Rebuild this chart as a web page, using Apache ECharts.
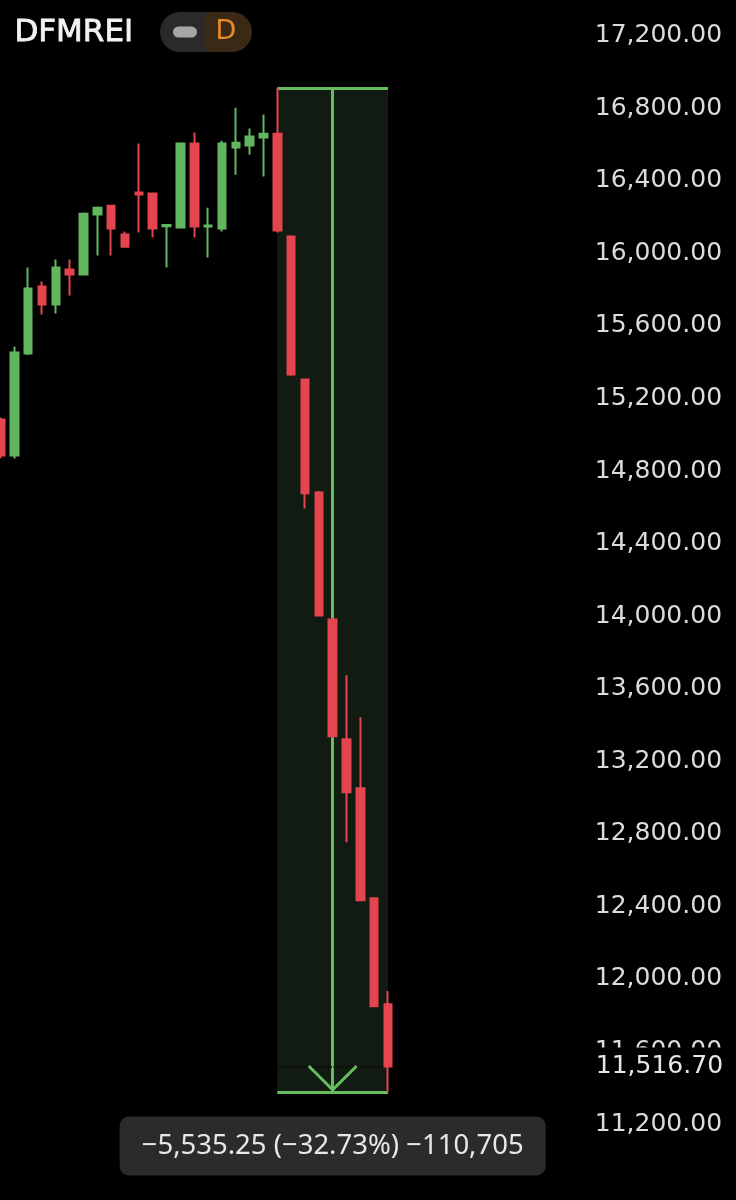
<!DOCTYPE html>
<html>
<head>
<meta charset="utf-8">
<script src="https://cdn.jsdelivr.net/npm/echarts@6/dist/echarts.min.js"></script>
<style>
html,body{margin:0;padding:0;background:#000;}
#chart{width:736px;height:1200px;}
</style>
</head>
<body>
<div id="chart"></div>
<script>
// ---- data ----
const symbolName = 'DFMREI';
const intervalLabel = 'D';
const categories = ['1','2','3','4','5','6','7','8','9','10','11','12','13','14','15','16','17','18','19','20','21','22','23','24','25','26','27','28','29'];
const opens  = [15084,14886,15448,15817,15718,15911,15883,16214,16263,16104,16335,16330,16150,16142,16605,16148,16137,16583,16594,16638,16660,16093,15305,14682,13982,13321,13051,12445,11861];
const closes = [14886,15453,15806,15718,15922,15883,16219,16252,16137,16037,16324,16137,16156,16605,16148,16153,16605,16610,16644,16660,16126,15332,14677,14004,13338,13029,12434,11850,11516.70];
const lows   = [14870,14869,15440,15663,15668,15768,15880,15988,15988,16032,16115,16087,15922,16137,16087,15977,16120,16434,16544,16423,16115,15325,14594,14000,13330,12754,12430,11845,11376.70];
const highs  = [15095,15487,15922,15845,15966,15966,16225,16258,16268,16120,16605,16335,16159,16610,16666,16252,16621,16803,16688,16765,16911.95,16100,15310,14690,13990,13674,13442,12450,11933];
const measureStart = 20;   // index of first candle of the measured move
const measureEnd = 28;     // index of last candle
const tickSize = 0.05;

// ---- derived ----
const padCount = 14;
const xCats = categories.concat(Array.from({length: padCount}, (_, i) => ' ' + i));
const ohlc = opens.map((o, i) => [o, closes[i], lows[i], highs[i]]);
const mHigh = highs[measureStart];
const mLow = lows[measureEnd];
const mMid = (measureStart + measureEnd) / 2;
const lastClose = closes[closes.length - 1];
const fmt2 = v => v.toLocaleString('en-US', {minimumFractionDigits: 2, maximumFractionDigits: 2});
const minus = '\u2212';
const diff = mLow - mHigh;
const pct = diff / mHigh * 100;
const ticks = Math.round(diff / tickSize);
const sgn = v => (v < 0 ? minus : '');
const measureText = sgn(diff) + fmt2(Math.abs(diff)) + ' (' + sgn(pct) + Math.abs(pct).toFixed(2) + '%) ' + sgn(ticks) + Math.abs(ticks).toLocaleString('en-US');

const UP = '#63b660', DOWN = '#e4454e', MEAS = '#66bd5e';

const chart = echarts.init(document.getElementById('chart'), null, {renderer: 'canvas'});
chart.setOption({
  backgroundColor: '#000',
  animation: false,
  grid: {left: 0.5, top: -0.6, width: 581.3, height: 1197.2, containLabel: false, outerBoundsMode: 'none'},
  xAxis: {
    type: 'category', data: xCats, boundaryGap: false, show: false
  },
  yAxis: {
    type: 'value', position: 'right', min: 10800, max: 17400, interval: 400,
    axisLine: {show: false}, axisTick: {show: false}, splitLine: {show: false},
    axisLabel: {
      margin: 13, color: '#dcdcdc', fontFamily: 'DejaVu Sans', fontSize: 25,
      showMinLabel: false, showMaxLabel: false,
      formatter: v => fmt2(v)
    }
  },
  graphic: [
    {type: 'text', left: 14, top: 17, style: {text: symbolName, fill: '#f2f2f2', font: '31px "DejaVu Sans"', stroke: '#f2f2f2', lineWidth: 0.8}},
    {type: 'rect', shape: {x: 160, y: 12, width: 46, height: 40, r: [20, 0, 0, 20]}, style: {fill: '#2a2a2a'}},
    {type: 'rect', shape: {x: 205, y: 12, width: 47, height: 40, r: [0, 20, 20, 0]}, style: {fill: '#3a2914'}},
    {type: 'rect', shape: {x: 173, y: 26.5, width: 24, height: 11, r: 5.5}, style: {fill: '#a6a6a6'}},
    {type: 'text', x: 226, y: 32, style: {text: intervalLabel, fill: '#e8892c', font: '27px "DejaVu Sans"', align: 'center', verticalAlign: 'middle'}}
  ],
  series: [
    {
      type: 'line', data: [], z: 1, silent: true,
      markArea: {
        silent: true,
        itemStyle: {color: '#121b12', opacity: 1},
        data: [[{coord: [measureStart, mHigh]}, {coord: [measureEnd, mLow]}]]
      },
      markLine: {
        silent: true, symbol: 'none', animation: false,
        lineStyle: {color: MEAS, width: 3, type: 'solid', opacity: 1},
        label: {show: false},
        data: [
          [{coord: [measureStart, mHigh], lineStyle: {width: 3}}, {coord: [measureEnd, mHigh]}],
          [{coord: [measureStart, mLow], lineStyle: {width: 3}}, {coord: [measureEnd, mLow]}],
          [{coord: [mMid, mHigh], lineStyle: {width: 3}}, {coord: [mMid, mLow]}]
        ]
      },
      markPoint: {
        silent: true, animation: false,
        data: [
          {
            coord: [mMid, mLow],
            symbol: 'path://M2.1,0 L25,22.9 L47.9,0 L50,2.1 L25,27.1 L0,2.1 Z',
            symbolSize: [50, 27.1], symbolOffset: [0, '-50%'],
            itemStyle: {color: MEAS}, label: {show: false}
          },
          {
            coord: [mMid, mLow],
            symbol: 'circle', symbolSize: 1,
            itemStyle: {color: 'rgba(0,0,0,0)'},
            label: {
              show: true, position: 'inside', offset: [0, 54],
              formatter: measureText,
              color: '#e8e8e8', fontFamily: 'Noto Sans', fontSize: 27.5, lineHeight: 31,
              backgroundColor: '#2b2b2b', borderRadius: 9, padding: [14, 22]
            }
          }
        ]
      }
    },
    {
      type: 'candlestick', z: 5, data: ohlc, barWidth: 8, clip: true,
      itemStyle: {color: UP, color0: DOWN, borderColor: UP, borderColor0: DOWN, borderWidth: 2},
      markLine: {
        silent: true, symbol: 'none', animation: false,
        lineStyle: {color: '#050505', width: 1.5, type: 'dotted'},
        label: {
          show: true, position: 'end', distance: 14,
          formatter: () => fmt2(lastClose),
          color: '#e6e6e6', fontFamily: 'DejaVu Sans', fontSize: 25, lineHeight: 30,
          backgroundColor: '#000', padding: [8, 6, 0, 0]
        },
        data: [{yAxis: lastClose}]
      }
    }
  ]
});
</script>
</body>
</html>
